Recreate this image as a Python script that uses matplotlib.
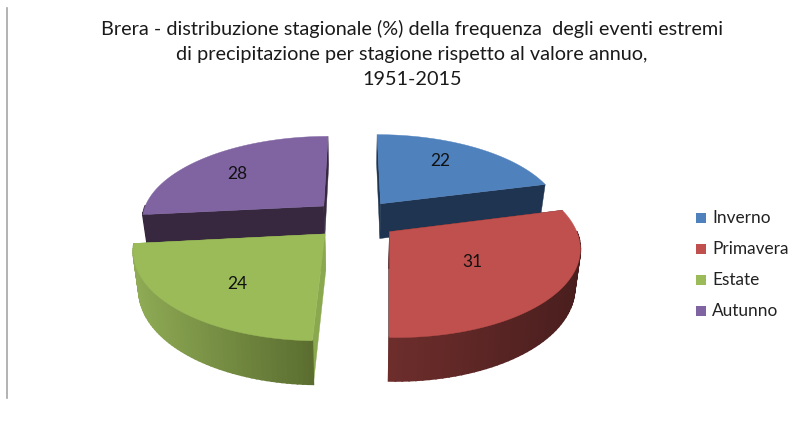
import numpy as np
import matplotlib
matplotlib.use("Agg")
import matplotlib.pyplot as plt
from matplotlib.colors import to_rgb

plt.rcParams['font.family'] = ['Lato', 'DejaVu Sans']

# Data
seasons = ['Inverno', 'Primavera', 'Estate', 'Autunno']
values = [22, 31, 24, 28]
title = ("Brera - distribuzione stagionale (%) della frequenza  degli eventi estremi\n"
         "di precipitazione per stagione rispetto al valore annuo,\n"
         "1951-2015")

# Styles
top_colors = ['#4f81bd', '#c0504d', '#9bbb59', '#8064a2']
cut_colors = ['#1f3450', '#4f2020', '#8aa84e', '#37283f']
side_left = ['#1f3450', '#6e2e2c', '#8fab55', '#37283f']
side_right = ['#1f3450', '#4a1e1e', '#5b6e30', '#37283f']
label_dx = [1, -13, -3, -13]
label_dy = [-7, -5, 8, -2]

# Geometry of the fake 3D pie, in pixels
CX, CY = 355, 219
R = 183
TILT = 0.462
PERSP = 0.159
EXPLODE = 43
DEPTH = 36


def project(r, ang, ox=0.0, oy=0.0, bottom=False):
    # ang clockwise from 12 o'clock, oy > 0 goes to the viewer
    u = r * np.sin(ang) + ox
    v = -r * np.cos(ang) + oy
    s = 1 / (1 - PERSP * v / R)
    x = u * s
    y = TILT * v * s
    if bottom:
        return CX + x * 0.975, CY + y + DEPTH * (1 + 0.18 * v / R)
    return CX + x, CY + y


fig = plt.figure(figsize=(8.07, 4.26), dpi=100)
ax = fig.add_axes([0, 0, 1, 1])
ax.set_xlim(0, 807)
ax.set_ylim(426, 0)
ax.axis('off')

ax.plot([7, 7], [8, 398], color='#a6a6a6', lw=1.2)

fractions = np.array(values) / sum(values)
ends = np.cumsum(fractions) * 2 * np.pi
starts = ends - fractions * 2 * np.pi

# back slices first, then the front ones
for i in [0, 3, 1, 2]:
    a0, a1 = starts[i], ends[i]
    mid = (a0 + a1) / 2
    ox = EXPLODE * np.sin(mid)
    oy = -EXPLODE * np.cos(mid)
    angs = np.linspace(a0, a1, 60)

    # cut faces
    for a in [a0, a1]:
        xt, yt = project(np.array([0, R]), a, ox, oy)
        xb, yb = project(np.array([0, R]), a, ox, oy, bottom=True)
        ax.fill([xt[0], xt[1], xb[1], xb[0]], [yt[0], yt[1], yb[1], yb[0]],
                color=cut_colors[i], lw=0.3)

    # outer wall, only where it faces the viewer
    xt, yt = project(R, angs, ox, oy)
    xb, yb = project(R, angs, ox, oy, bottom=True)
    c0 = np.array(to_rgb(side_left[i]))
    c1 = np.array(to_rgb(side_right[i]))
    xmin, xmax = xt.min(), xt.max()
    for j in range(len(angs) - 1):
        mid_ang = (angs[j] + angs[j + 1]) / 2
        if np.cos(mid_ang) > 0:
            continue
        t = (xt[j] - xmin) / max(xmax - xmin, 1)
        ax.fill([xt[j], xt[j + 1], xb[j + 1], xb[j]],
                [yt[j], yt[j + 1], yb[j + 1], yb[j]],
                color=c0 * (1 - t) + c1 * t, lw=1.2)

    # top face
    xa, ya = project(0, 0, ox, oy)
    ax.fill(np.r_[xa, xt], np.r_[ya, yt], color=top_colors[i], lw=0.3)

    # value label
    lx, ly = project(R * 0.6, mid, ox, oy)
    ax.text(lx + label_dx[i], ly + label_dy[i], str(values[i]), ha='center', va='center',
            fontsize=12.5, color='#111111')

fig.text(412 / 807, 1 - 54 / 426, title, ha='center', va='center', fontsize=14.3,
         color='#1a1a1a', linespacing=1.6)

# Legend
for i, name in enumerate(seasons):
    y = 218 + i * 31
    ax.fill([696, 706, 706, 696], [y - 5, y - 5, y + 5, y + 5], color=top_colors[i], lw=0)
    ax.text(712, y, name, ha='left', va='center', fontsize=12.4, color='#222222')

plt.savefig('out.png', dpi=100)
